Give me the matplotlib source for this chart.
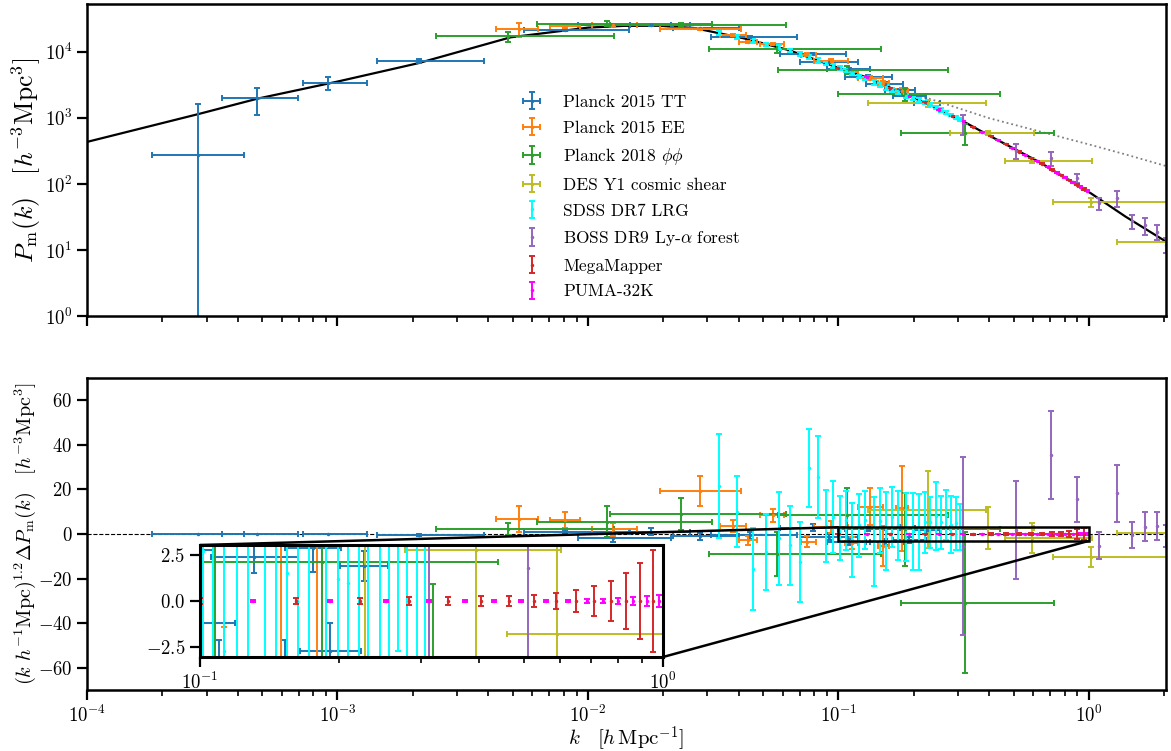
import numpy as np
import matplotlib
matplotlib.use('Agg')
import matplotlib.pyplot as plt
from matplotlib.ticker import NullLocator, NullFormatter
from mpl_toolkits.axes_grid1.inset_locator import mark_inset

plt.rcParams['font.family'] = 'serif'
plt.rcParams['font.serif'] = ['cmr10']
plt.rcParams['mathtext.fontset'] = 'cm'
plt.rcParams['axes.formatter.use_mathtext'] = True
plt.rcParams['axes.linewidth'] = 1.8

#######################################
# Linear / nonlinear matter power spectrum
#######################################
lin_k = [1e-4, 2.8e-4, 4.8e-4, 1e-3, 2.1e-3, 4.9e-3, 1e-2, 1.4e-2, 1.9e-2, 2.65e-2,
         4.2e-2, 6.3e-2, 0.101, 0.131, 0.163, 0.192, 0.226, 0.284, 0.316, 0.4,
         0.64, 1.017, 1.4, 2.03]
lin_P = [433, 1150, 1960, 3550, 6740, 16600, 23300, 24800, 24900, 23000,
         16000, 10700, 5660, 4050, 2800, 2130, 1670, 1060, 879, 540,
         210, 72.3, 32, 13.4]
nl_k = [0.1, 0.15, 0.2, 0.227, 0.4, 0.64, 1.0, 1.4, 2.03]
nl_P = [5660, 3200, 2150, 1990, 990, 620, 397, 280, 187]

#######################################
# Planck 2015 TT
#######################################
tt_k   = [2.78e-4, 4.78e-4, 9.18e-4, 2.12e-3, 8.12e-3, 1.263e-2, 1.792e-2, 2.81e-2, 4.455e-2,
          7.88e-2, 9.13e-2, 0.1097, 0.1307, 0.1528, 0.1754, 0.1906, 0.226]
tt_klo = [1.82e-4, 3.46e-4, 7.30e-4, 1.44e-3, 5.57e-3, 9.16e-3, 1.477e-2, 2.19e-2, 3.11e-2,
          5.82e-2, 6.99e-2, 9.04e-2, 0.1058, 0.1294, 0.1528, 0.1645, 0.2005]
tt_khi = [4.24e-4, 6.97e-4, 1.31e-3, 3.86e-3, 1.463e-2, 2.153e-2, 2.564e-2, 4.02e-2, 6.80e-2,
          0.1067, 0.1192, 0.1331, 0.163, 0.1804, 0.2014, 0.2228, 0.2548]
tt_P   = [275, 1970, 3360, 7310, 21300, 25400, 25500, 22800, 17000,
          9200, 7100, 5500, 4200, 3300, 2650, 2150, 1700]
tt_Pe  = [1345, 850, 750, 500, 600, 600, 600, 600, 500, 350, 300, 250, 200, 150, 120, 100, 80]
tt_R   = [0, 0, 0, -0.4, 1.0, -1.9, 1.0, -1.0, -0.6, 2.8, -1.2, -3.6, 2.4, -3.5, 2.9, -2.7, 1.9]
tt_Re  = [0.05, 0.1, 0.1, 0.4, 1.0, 1.5, 1.5, 1.5, 1.5, 1.5, 1.5, 1.5, 0.9, 1.4, 1.3, 1.5, 0.8]

#######################################
# Planck 2015 EE
#######################################
ee_k   = [5.32e-3, 8.12e-3, 1.263e-2, 2.81e-2, 3.81e-2, 4.37e-2, 5.46e-2, 7.52e-2, 9.30e-2,
          0.1128, 0.1331, 0.150, 0.1787]
ee_klo = [4.31e-3, 7.08e-3, 1.041e-2, 1.93e-2, 3.38e-2, 4.02e-2, 4.88e-2, 7.06e-2, 7.95e-2,
          0.1058, 0.1192, 0.1433, 0.1691]
ee_khi = [6.34e-3, 9.32e-3, 1.575e-2, 4.10e-2, 4.29e-2, 4.75e-2, 6.04e-2, 8.10e-2, 0.1088,
          0.1192, 0.150, 0.1586, 0.1888]
ee_P   = [22100, 24800, 25200, 22100, 18100, 14300, 13200, 9100, 7400,
          4930, 4000, 3380, 2580]
ee_Pe  = [5300, 1500, 1000, 900, 700, 500, 500, 400, 400, 300, 300, 300, 250]
ee_R   = [6.7, 6.3, 2.1, 19.3, 3.6, -2.7, 8.5, -3.4, 3.3, -4.1, 12.2, -5.2, 11.6]
ee_Re  = [5.8, 3.6, 3.0, 6.7, 2.7, 2.0, 2.9, 2.3, 2.7, 2.7, 8.3, 9.0, 19.0]

#######################################
# Planck 2018 lensing
#######################################
pp_k   = [4.81e-3, 1.195e-2, 2.36e-2, 5.71e-2, 0.1077, 0.1836, 0.3191]
pp_klo = [2.48e-3, 6.28e-3, 1.229e-2, 3.055e-2, 5.76e-2, 9.92e-2, 0.177]
pp_khi = [1.275e-2, 3.14e-2, 6.15e-2, 0.1473, 0.2729, 0.44, 0.7235]
pp_P   = [17100, 26600, 25700, 11100, 5330, 2310, 593]
pp_Pe  = [3200, 2300, 2000, 1500, 700, 500, 210]
pp_R   = [2.1, 5.5, 9.0, -9.0, 8.5, 2.1, -30.8]
pp_Re  = [2.7, 7.0, 7.1, 9.7, 12.0, 16.4, 31.7]

#######################################
# DES Y1 cosmic shear
#######################################
des_k   = [0.2269, 0.3942, 0.5908, 1.017, 2.6]
des_klo = [0.1307, 0.2779, 0.4609, 0.7168, 1.292]
des_khi = [0.387, 0.6018, 1.026, 2.064, 4.0]
des_P   = [1670, 587, 225, 52.8, 13.4]
des_Pe  = [200, 40, 20, 8, 2]
des_R   = [11.0, 2.8, -1.8, -10.2, 0.3]
des_Re  = [17.3, 9.3, 6.6, 4.5, 3.0]

#######################################
# SDSS DR7 LRG
#######################################
lrg_k  = [0.0335, 0.0395, 0.0454, 0.0516, 0.0579, 0.0641, 0.0704, 0.0762, 0.0825, 0.0892,
          0.0947, 0.1015, 0.1067, 0.1128, 0.1203, 0.1271, 0.1381, 0.146, 0.1542, 0.163,
          0.1722, 0.1869, 0.1988, 0.2089, 0.2208, 0.2312, 0.2443, 0.2559, 0.268, 0.2806,
          0.2938, 0.306]
lrg_P  = [19100, 16750, 14750, 13000, 11630, 10450, 9210, 8280, 7440, 6690,
          6170, 5630, 5190, 4750, 4300, 3940, 3450, 3160, 2900, 2660,
          2440, 2150, 1980, 1855, 1720, 1600, 1440, 1320, 1210, 1107,
          1014, 939]
lrg_Pe = [1390, 1040, 1000, 820, 900, 650, 640, 540, 560, 450,
          420, 380, 300, 290, 240, 230, 250, 200, 220, 150,
          160, 150, 130, 120, 100, 80, 85, 75, 55, 55,
          50, 42]
lrg_R  = [21.5, 10.0, -15.7, -8.0, -1.9, -5.1, -12.4, 29.7, 25.4, 3.7,
          7.7, 2.7, 6.1, -2.7, 3.9, 6.1, -3.3, 6.0, 1.5, 7.7,
          3.9, 3.0, 1.2, 1.0, 5.2, 5.2, 8.2, 5.2, 8.5, 4.2,
          4.8, 3.3]
lrg_Re = [23.5, 16.0, 18.3, 17.0, 20.9, 17.8, 17.9, 17.4, 18.4, 16.2,
          16.3, 14.3, 13.2, 16.6, 14.0, 13.0, 20.0, 14.5, 17.5, 13.4,
          15.5, 15.3, 17.3, 17.0, 13.8, 11.6, 15.3, 12.0, 11.2, 12.8,
          12.0, 10.4]

#######################################
# BOSS DR9 Lyman-alpha forest
#######################################
lya_k  = [0.3131, 0.5099, 0.7037, 0.8995, 1.094, 1.2916, 1.4825, 1.676, 1.875, 2.03]
lya_P  = [830, 320, 245, 122, 51, 61, 27.5, 23.9, 19, 12]
lya_Pe = [280, 85, 58, 20, 10, 17, 6.6, 7, 5, 3]
lya_R  = [-5.3, 1.8, 35.5, 15.5, -5.2, 18.2, -0.4, 3.3, 3.6, -1.0]
lya_Re = [40.0, 22.1, 19.8, 10.3, 6.2, 12.9, 5.7, 6.4, 6.2, 5.0]

#######################################
# MegaMapper forecast
#######################################
mm_k  = [0.1, 0.161, 0.222, 0.283, 0.344, 0.405, 0.466, 0.527, 0.588, 0.649,
         0.71, 0.771, 0.832, 0.893, 0.954]
mm_P  = [5750, 2850, 1720, 1065, 738, 527, 397, 310, 249, 204,
         165, 137, 115, 97.5, 84]
mm_Pe = [15, 8, 5, 3, 2, 1.5, 1.2, 1, 1, 1, 1, 1.2, 1.5, 2, 3]
mm_R  = [0, 0, 0, 0, 0, 0, 0, 0, 0, 0, 0, 0, 0, 0, 0]
mm_Re = [0.15, 0.17, 0.18, 0.2, 0.22, 0.25, 0.27, 0.33, 0.46, 0.6,
         0.8, 1.1, 1.5, 2.05, 2.8]

#######################################
# PUMA-32K forecast
#######################################
pu_k  = [0.13, 0.191, 0.252, 0.313, 0.374, 0.432, 0.493, 0.558, 0.6225, 0.684,
         0.743, 0.80, 0.863, 0.922, 0.982]
pu_P  = [4100, 2150, 1340, 900, 620, 462, 355, 276, 222, 180,
         149, 126, 106, 91, 78.6]
pu_Pe = [6, 3, 2, 1.5, 1, 1, 1, 1, 1, 1, 1, 1, 1, 1, 1]
pu_R  = [0, 0, 0, 0, 0, 0, 0, 0, 0, 0, 0, 0, 0, 0, 0]
pu_Re = [0.08, 0.08, 0.08, 0.08, 0.08, 0.08, 0.08, 0.08, 0.08, 0.1,
         0.1, 0.15, 0.2, 0.25, 0.35]

sets = [
    ('Planck 2015 TT', '#1f77b4', tt_k, tt_klo, tt_khi, tt_P, tt_Pe, tt_R, tt_Re),
    ('Planck 2015 EE', '#ff7f0e', ee_k, ee_klo, ee_khi, ee_P, ee_Pe, ee_R, ee_Re),
    (r'Planck 2018 $\phi\phi$', '#2ca02c', pp_k, pp_klo, pp_khi, pp_P, pp_Pe, pp_R, pp_Re),
    ('DES Y1 cosmic shear', '#bcbd22', des_k, des_klo, des_khi, des_P, des_Pe, des_R, des_Re),
    ('SDSS DR7 LRG', '#00ffff', lrg_k, None, None, lrg_P, lrg_Pe, lrg_R, lrg_Re),
    (r'BOSS DR9 Ly-$\alpha$ forest', '#9467bd', lya_k, None, None, lya_P, lya_Pe, lya_R, lya_Re),
    ('MegaMapper', '#d62728', mm_k, None, None, mm_P, mm_Pe, mm_R, mm_Re),
    ('PUMA-32K', '#ff00ff', pu_k, None, None, pu_P, pu_Pe, pu_R, pu_Re),
]

eb = dict(fmt='.', ms=3, lw=1.4, capsize=2.2, capthick=1.4)

fig = plt.figure(figsize=(11.71, 7.51), dpi=100)
ax1 = fig.add_axes([0.0743, 0.5792, 0.9214, 0.4154])
ax2 = fig.add_axes([0.0743, 0.0812, 0.9214, 0.4154], sharex=ax1)
axins = ax2.inset_axes([0.1047, 0.1058, 0.4291, 0.359])

ax1.plot(lin_k, lin_P, color='k', lw=1.6, zorder=1)
ax1.plot(nl_k, nl_P, color='grey', ls=':', lw=1.3, zorder=0.9)
ax2.axhline(0, color='k', ls='--', lw=0.8, zorder=1)

for lab, col, k, klo, khi, P, Pe, R, Re in sets:
    k = np.array(k)
    xerr = None
    if klo is not None:
        xerr = [k - np.array(klo), np.array(khi) - k]
    ax1.errorbar(k, P, yerr=Pe, xerr=xerr, color=col, label=lab, **eb)
    ax2.errorbar(k, R, yerr=Re, xerr=xerr, color=col, **eb)
    axins.errorbar(k, R, yerr=Re, xerr=xerr, color=col, **eb)

ax1.set_xscale('log')
ax1.set_yscale('log')
ax1.set_xlim(1e-4, 2.03)
ax1.set_ylim(1, 5.3e4)
ax1.yaxis.set_minor_locator(NullLocator())
ax1.tick_params(labelbottom=False)
ax2.set_ylim(-70, 70)
ax2.set_yticks([-60, -40, -20, 0, 20, 40, 60])

axins.set_xscale('log')
axins.set_xlim(0.1, 1)
axins.set_ylim(-3.05, 3.05)
axins.set_yticks([-2.5, 0.0, 2.5])
axins.xaxis.set_minor_formatter(NullFormatter())
axins.set_facecolor('white')
for s in axins.spines.values():
    s.set_linewidth(2.2)
mark_inset(ax2, axins, loc1=2, loc2=4, fc='none', ec='k', lw=1.8, zorder=4)

for a in (ax1, ax2, axins):
    a.tick_params(which='major', length=7, width=1.6, labelsize=13.5)
    a.tick_params(which='minor', length=4, width=1.2)

ax1.set_ylabel(r'$P_{\rm m}(k)\quad[h^{-3}{\rm Mpc}^3]$', fontsize=18.5)
ax2.set_ylabel(r'$(k\ h^{-1}{\rm Mpc})^{1.2}\Delta P_{\rm m}(k)\quad[h^{-3}{\rm Mpc}^3]$', fontsize=14.5)
ax2.set_xlabel(r'$k\quad[h\,{\rm Mpc}^{-1}]$', fontsize=15, labelpad=-1)
ax1.yaxis.set_label_coords(-0.041, 0.5)
ax2.yaxis.set_label_coords(-0.045, 0.5)

ax1.legend(loc='upper left', bbox_to_anchor=(0.388, 0.76), frameon=False, fontsize=12.5,
           handlelength=1.2, handletextpad=1.2, labelspacing=0.6)

plt.savefig('out.png', dpi=100)
